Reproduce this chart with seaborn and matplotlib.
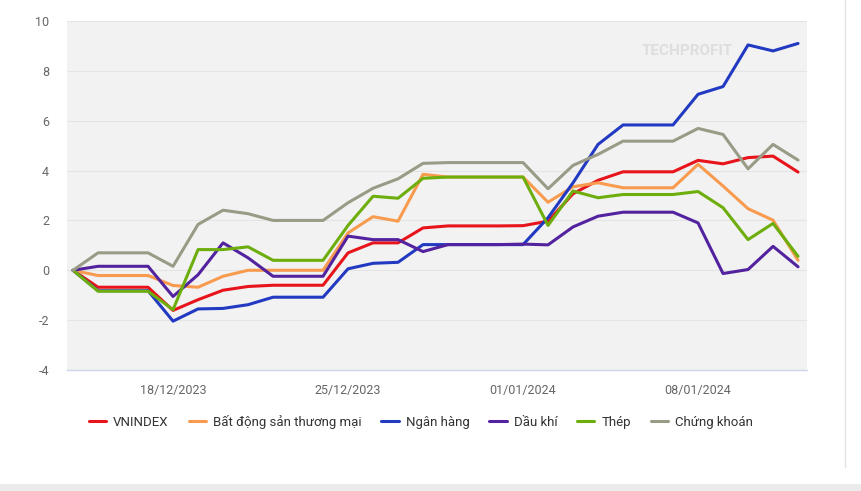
import pandas as pd
import numpy as np
import matplotlib
matplotlib.use("Agg")
import matplotlib.pyplot as plt
import matplotlib.dates as mdates
from matplotlib.patches import Rectangle
import seaborn as sns

# Data: cumulative % change by sector, daily (weekends/holidays carried forward)
dates = pd.date_range("2023-12-14", "2024-01-12", freq="D")

vnindex = [0, -0.68, -0.68, -0.68, -1.61, -1.18, -0.80, -0.65, -0.60, -0.60,
           -0.60, 0.70, 1.10, 1.10, 1.70, 1.78, 1.78, 1.78, 1.79, 1.97,
           3.07, 3.61, 3.95, 3.95, 3.95, 4.41, 4.27, 4.52, 4.58, 3.94]
bat_dong_san = [0, -0.21, -0.21, -0.21, -0.61, -0.68, -0.24, 0, 0, 0,
                0, 1.50, 2.15, 1.97, 3.85, 3.74, 3.74, 3.74, 3.74, 2.73,
                3.35, 3.51, 3.31, 3.31, 3.31, 4.25, 3.38, 2.47, 2.01, 0.40]
ngan_hang = [0, -0.82, -0.82, -0.82, -2.04, -1.55, -1.53, -1.38, -1.08, -1.08,
             -1.08, 0.06, 0.28, 0.32, 1.03, 1.03, 1.03, 1.03, 1.03, 2.11,
             3.51, 5.05, 5.83, 5.83, 5.83, 7.06, 7.37, 9.04, 8.80, 9.10]
dau_khi = [0, 0.16, 0.16, 0.16, -1.05, -0.18, 1.10, 0.50, -0.24, -0.24,
           -0.24, 1.37, 1.23, 1.23, 0.75, 1.03, 1.03, 1.03, 1.05, 1.02,
           1.74, 2.17, 2.33, 2.33, 2.33, 1.90, -0.13, 0.03, 0.96, 0.14]
thep = [0, -0.84, -0.84, -0.84, -1.58, 0.83, 0.83, 0.94, 0.40, 0.40,
        0.40, 1.80, 2.97, 2.89, 3.69, 3.74, 3.74, 3.74, 3.74, 1.80,
        3.18, 2.91, 3.04, 3.04, 3.04, 3.16, 2.51, 1.23, 1.88, 0.56]
chung_khoan = [0, 0.70, 0.70, 0.70, 0.16, 1.84, 2.41, 2.27, 2.0, 2.0,
               2.0, 2.71, 3.29, 3.67, 4.29, 4.32, 4.32, 4.32, 4.32, 3.27,
               4.21, 4.65, 5.18, 5.18, 5.18, 5.69, 5.45, 4.07, 5.05, 4.42]

series_names = ["VNINDEX", "Bất động sản thương mại", "Ngân hàng",
                "Dầu khí", "Thép", "Chứng khoán"]
series_values = [vnindex, bat_dong_san, ngan_hang, dau_khi, thep, chung_khoan]
colors = ["#e8141c", "#f89b4e", "#2239c2", "#52229f", "#6dae0d", "#9a9b86"]
widths = [1.4, 1.4, 2.5, 1.4, 1.4, 1.4]

y_ticks = [-4, -2, 0, 2, 4, 6, 8, 10]
x_ticks = pd.to_datetime(["2023-12-18", "2023-12-25", "2024-01-01", "2024-01-08"])

sns.set_theme(style="white")
plt.rcParams["font.family"] = ["Roboto", "DejaVu Sans"]

fig = plt.figure(figsize=(8.61, 4.91), dpi=100, facecolor="white")
ax = fig.add_axes([67 / 861, 121 / 491, 740 / 861, 349 / 491])
ax.set_facecolor("#f2f2f2")

for name, vals, c, lw in zip(series_names, series_values, colors, widths):
    sns.lineplot(x=dates, y=vals, color=c, linewidth=lw, label=name, ax=ax,
                 legend=False)

ax.set_ylim(-4, 10)
ax.set_yticks(y_ticks)
ax.set_yticklabels([str(t) for t in y_ticks])
ax.set_xlim(dates[0] - pd.Timedelta(hours=5.8), dates[-1] + pd.Timedelta(hours=8.6))
ax.set_xticks(x_ticks)
ax.xaxis.set_major_formatter(mdates.DateFormatter("%d/%m/%Y"))

for t in y_ticks[1:]:
    ax.axhline(t, color="#e4e4e4", linewidth=0.8, zorder=0.5)

for s in ["top", "right", "left"]:
    ax.spines[s].set_visible(False)
ax.spines["bottom"].set_color("#ccd6eb")
ax.spines["bottom"].set_linewidth(1)

ax.tick_params(axis="y", length=0, pad=13, labelsize=9, labelcolor="#666666")
ax.tick_params(axis="x", length=7, width=1, color="#ccd6eb", pad=3,
               labelsize=9, labelcolor="#666666")
ax.set_xlabel("")
ax.set_ylabel("")

# watermark
ax.text(0.838, 0.915, "TECHPROFIT", transform=ax.transAxes, fontsize=11,
        fontweight="bold", color="#dedede", ha="center", va="center", zorder=0.6)

handles, labels = ax.get_legend_handles_labels()
for h in handles:
    h.set_linewidth(2.2)
fig.legend(handles, labels, loc="center", bbox_to_anchor=(0.489, 0.1405),
           ncol=6, frameon=False, fontsize=9.5, handlelength=1.3,
           handletextpad=0.55, columnspacing=1.5, labelcolor="#333333")

# card edges
fig.add_artist(Rectangle((0, 0), 1, 7 / 491, transform=fig.transFigure,
                         facecolor="#ebebeb", edgecolor="none"))
fig.add_artist(plt.Line2D([845 / 861, 845 / 861], [24 / 491, 1],
                          transform=fig.transFigure, color="#e2e2e2", linewidth=1))

fig.savefig("out.png", dpi=100, facecolor="white")
